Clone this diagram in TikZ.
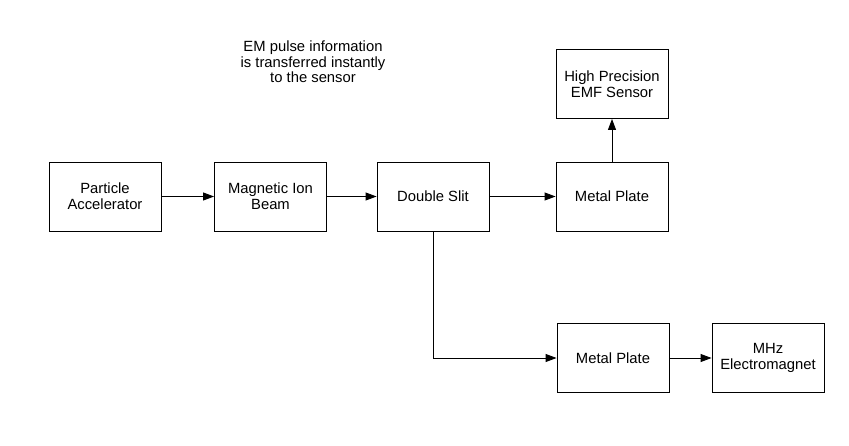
\documentclass[tikz,border=0pt]{standalone}
\usepackage{fontspec}
\setmainfont{Liberation Sans}
\usetikzlibrary{arrows.meta}

\begin{document}
\begin{tikzpicture}[x=1pt,y=-1pt,>={Triangle[length=11pt,width=8pt]},line width=0.9pt,
  blockbox/.style={draw,minimum width=112pt,minimum height=69pt,inner sep=0pt,align=center,
    font=\fontsize{14.8}{16}\selectfont},
  note/.style={align=center,font=\fontsize{14.8}{15.6}\selectfont}]
\useasboundingbox (0,0) rectangle (849,445);
\node[blockbox] (accel) at (105,196.5) {Particle\\Accelerator};
\node[blockbox] (ionbeam) at (270.5,196.5) {Magnetic Ion\\Beam};
\node[blockbox] (slit) at (433,196.5) {Double Slit};
\node[blockbox] (plateA) at (612,196.5) {Metal Plate};
\node[blockbox] (emf) at (612,84) {High Precision\\EMF Sensor};
\node[blockbox] (plateB) at (613,358) {Metal Plate};
\node[blockbox] (magnet) at (768,358) {MHz\\Electromagnet};
\node[note] (pulse) at (313,62) {EM pulse information\\is transferred instantly\\to the sensor};
\draw[->] (accel) -- (ionbeam);
\draw[->] (ionbeam) -- (slit);
\draw[->] (slit) -- (plateA);
\draw[->] (plateA) -- (emf);
\draw[->] (slit.south) |- (plateB.west);
\draw[->] (plateB) -- (magnet);
\end{tikzpicture}
\end{document}
